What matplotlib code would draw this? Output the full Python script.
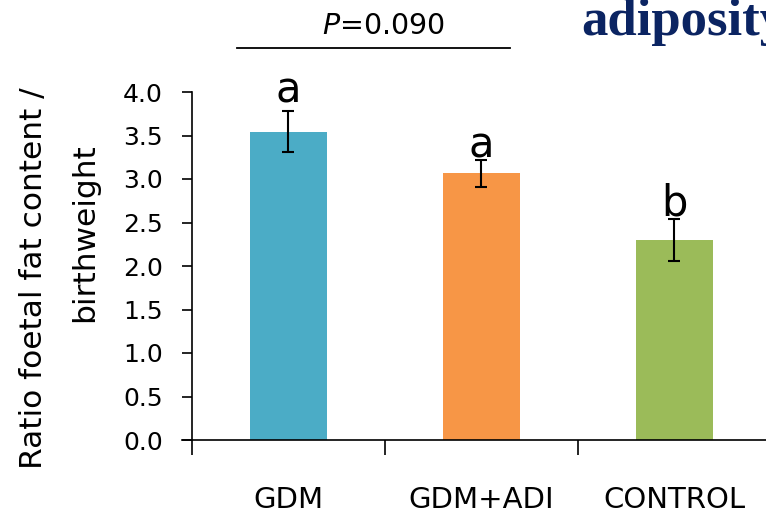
import matplotlib
matplotlib.use("Agg")
import matplotlib.pyplot as plt

categories = ["GDM", "GDM+ADI", "CONTROL"]
values = [3.545, 3.065, 2.30]
errors = [0.235, 0.155, 0.24]
letters = ["a", "a", "b"]
colors = ["#4BACC6", "#F79646", "#9BBB59"]
yticks = [0.0, 0.5, 1.0, 1.5, 2.0, 2.5, 3.0, 3.5, 4.0]

# letter baseline offsets above error-bar tops (style)
letter_offsets = [0.105, 0.03, 0.046]

W, H = 766, 514
fig = plt.figure(figsize=(W / 100, H / 100), dpi=100)
ax = fig.add_axes([192 / W, 74 / H, 579 / W, 348 / H])
font = "DejaVu Sans"

x = list(range(len(categories)))
ax.bar(x, values, width=0.40, color=colors, zorder=2)
ax.errorbar(x, values, yerr=errors, fmt="none", ecolor="black",
            elinewidth=1.5, capsize=4.5, capthick=1.5, zorder=3)

ax.set_xlim(-0.5, 2.5)
ax.set_ylim(0, 4.0)
ax.set_yticks(yticks)
ax.set_yticklabels([f"{t:.1f}" for t in yticks], fontfamily=font, fontsize=18)
ax.set_xticks([-0.5, 0.5, 1.5, 2.5])
ax.set_xticklabels([])
ax.tick_params(axis="y", direction="out", length=7, width=1.2, pad=14)
ax.tick_params(axis="x", direction="out", length=11, width=1.2)
for s in ["top", "right"]:
    ax.spines[s].set_visible(False)
ax.spines["left"].set_linewidth(1.2)
ax.spines["bottom"].set_linewidth(1.2)
ax.spines["bottom"].set_bounds(-0.55, 2.5)

for xi, cat in zip(x, categories):
    ax.text(xi, -0.69, cat, ha="center", va="center", fontsize=21,
            fontfamily=font, clip_on=False)

for xi, v, e, l, off in zip(x, values, errors, letters, letter_offsets):
    ax.text(xi, v + e + off, l, ha="center", va="baseline", fontsize=30,
            fontfamily=font)

# y-axis title (two lines, as in the reference)
fig.text(42 / W, 1 - 278 / H, "Ratio foetal fat content /", rotation=90,
         rotation_mode="anchor", ha="center", va="baseline",
         fontsize=22.5, fontfamily=font)
fig.text(93 / W, 1 - 233 / H, "birthweight", rotation=90,
         rotation_mode="anchor", ha="center", va="baseline",
         fontsize=22.5, fontfamily=font)

# P-value annotation
fig.add_artist(plt.Line2D([237 / W, 510 / W], [1 - 48 / H, 1 - 48 / H],
                          color="black", lw=1.3))
fig.text(383 / W, 1 - 26 / H, "$P$=0.090", ha="center", va="center",
         fontsize=20.5, fontfamily=font)
fig.text(581 / W, 1 - 35 / H, "adiposity", ha="left", va="baseline",
         fontsize=38, fontfamily="Liberation Serif", fontweight="bold",
         color="#0B2462")

fig.savefig("out.png", dpi=100)
